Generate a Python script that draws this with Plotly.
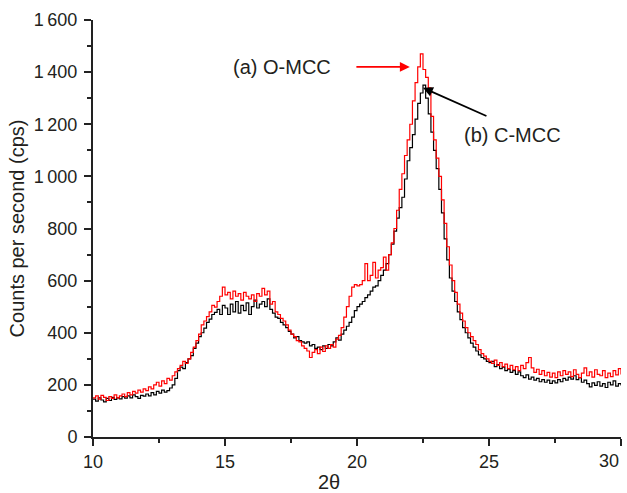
import numpy as np
import plotly.graph_objects as go

two_theta = [round(10 + 0.1 * i, 1) for i in range(201)]

c_mcc = [
    145, 138, 150, 142, 135, 148, 140, 152, 144, 150,
    146, 155, 149, 158, 150, 162, 155, 148, 160, 157,
    165, 158, 170, 162, 175, 168, 180, 172, 178, 188,
    200, 225, 255, 268, 262, 285, 300, 312, 340, 360,
    385, 400, 418, 440, 452, 470, 478, 490, 470, 505,
    495, 470, 510, 480, 520, 475, 505, 485, 515, 470,
    500, 525, 495, 510, 520, 500, 530, 490, 475, 460,
    455, 440, 430, 420, 405, 395, 380, 385, 370, 365,
    360, 365, 350, 355, 340, 345, 335, 350, 340, 355,
    350, 365, 380, 372, 395, 410, 425, 440, 460, 485,
    500, 510, 520, 535, 545, 560, 575, 580, 600, 620,
    640, 665, 700, 740, 790, 840, 880, 920, 990, 1060,
    1110, 1160, 1220, 1280, 1320, 1350, 1300, 1240, 1170, 1100,
    1030, 950, 860, 760, 680, 610, 560, 520, 480, 450,
    420, 400, 380, 360, 345, 330, 315, 305, 300, 290,
    285, 290, 270, 278, 262, 268, 255, 260, 248, 255,
    240, 250, 235, 228, 238, 222, 230, 218, 225, 212,
    220, 210, 218, 206, 215, 208, 220, 212, 225, 218,
    230, 222, 235, 220, 228, 210, 218, 205, 192, 208,
    198, 212, 195, 205, 190, 210, 200, 215, 195, 205,
    198,
]

o_mcc = [
    150, 158, 145, 160, 152, 140, 155, 148, 162, 150,
    158, 165, 155, 170, 162, 175, 168, 180, 172, 185,
    178, 192, 185, 200, 210, 195, 215, 205, 225, 218,
    235, 250, 262, 275, 290, 282, 300, 325, 345, 370,
    395, 430, 445, 462, 480, 505, 498, 520, 540, 575,
    545, 555, 530, 560, 540, 550, 525, 555, 540, 530,
    545, 520, 550, 540, 570, 545, 560, 510, 520, 480,
    470, 455, 445, 430, 410, 395, 385, 370, 365, 350,
    340, 330, 305, 325, 335, 320, 345, 328, 350, 340,
    355, 345, 375, 390, 420, 460, 500, 540, 575, 585,
    580, 585, 600, 665, 600, 620, 670, 610, 640, 650,
    690, 640, 700, 745, 800, 870, 950, 1010, 1080, 1140,
    1200, 1290, 1360, 1420, 1470, 1410, 1380, 1340, 1230, 1140,
    1070, 1000, 910, 820, 730, 660, 600, 555, 510, 475,
    445, 420, 400, 385, 370, 355, 335, 320, 310, 300,
    290, 282, 295, 275, 285, 270, 280, 262, 275, 258,
    270, 255, 275, 262, 285, 305, 265, 248, 260, 240,
    255, 235, 248, 230, 245, 228, 250, 235, 255, 240,
    250, 232, 258, 240, 228, 245, 265, 235, 250, 230,
    258, 240, 235, 255, 228, 245, 232, 255, 238, 262,
    240,
]

y_ticks = [0, 200, 400, 600, 800, 1000, 1200, 1400, 1600]
y_labels = ["0", "200", "400", "600", "800", "1\u2009000", "1\u2009200", "1\u2009400", "1\u2009600"]
x_ticks = [10, 15, 20, 25, 30]
x_labels = ["10", "15", "20", "25", ""]

FONT = "Liberation Sans, Arial, sans-serif"
TXT = "#231f20"
TICK_SIZE = 18
TEXT_SIZE = 20

fig = go.Figure()
fig.add_trace(go.Scatter(x=two_theta, y=c_mcc, mode="lines", name="(b) C-MCC",
                         line=dict(color="#000000", width=1.2, shape="hv")))
fig.add_trace(go.Scatter(x=two_theta, y=o_mcc, mode="lines", name="(a) O-MCC",
                         line=dict(color="#ff0000", width=1.2, shape="hv")))

fig.update_layout(
    width=627, height=493,
    margin=dict(l=93, r=6, t=20, b=56),
    paper_bgcolor="white", plot_bgcolor="white",
    showlegend=False,
    font=dict(family=FONT, size=TICK_SIZE, color=TXT),
    xaxis=dict(range=[10, 30], tickvals=x_ticks, ticktext=x_labels,
               showgrid=False, zeroline=False, showline=True, linecolor="#222", linewidth=2,
               ticks="outside", ticklen=7, tickwidth=1.5, tickcolor="#222",
               minor=dict(dtick=2.5, tick0=10, ticks="outside", ticklen=4, tickwidth=1.5, tickcolor="#222"),
               tickfont=dict(size=TICK_SIZE, color=TXT)),
    yaxis=dict(range=[0, 1600], tickvals=y_ticks, ticktext=y_labels,
               showgrid=False, zeroline=False, showline=True, linecolor="#222", linewidth=2,
               ticks="outside", ticklen=7, tickwidth=1.5, tickcolor="#222",
               minor=dict(dtick=100, tick0=0, ticks="outside", ticklen=4, tickwidth=1.5, tickcolor="#222"),
               tickfont=dict(size=TICK_SIZE, color=TXT), ticklabelstandoff=3,
               title=dict(text="Counts per second (cps)", font=dict(size=TEXT_SIZE, color=TXT), standoff=4)),
)

fig.add_annotation(x=30, y=0, xref="x", yref="y", text="30", showarrow=False,
                   xanchor="right", yanchor="top", yshift=-12, xshift=0,
                   font=dict(size=TICK_SIZE, color=TXT))
fig.add_annotation(x=0.447, y=-0.108, xref="paper", yref="paper", text="2θ", showarrow=False,
                   xanchor="center", yanchor="middle", font=dict(size=TEXT_SIZE, color=TXT))

fig.add_annotation(x=22.0, y=1420, xref="x", yref="y", ax=19.92, ay=1420, axref="x", ayref="y",
                   text="", showarrow=True, arrowhead=2, arrowsize=1.1, arrowwidth=1.8, arrowcolor="#ff0000")
fig.add_annotation(x=17.15, y=1420, xref="x", yref="y", text="(a) O-MCC", showarrow=False,
                   font=dict(size=TEXT_SIZE, color=TXT))
fig.add_annotation(x=25.9, y=1160, xref="x", yref="y", text="(b) C-MCC", showarrow=False,
                   font=dict(size=TEXT_SIZE, color=TXT))
fig.add_annotation(x=22.5, y=1340, xref="x", yref="y", ax=24.96, ay=1229, axref="x", ayref="y",
                   text="", showarrow=True, arrowhead=2, arrowsize=1.1, arrowwidth=1.8, arrowcolor="#000000")

fig.write_html("out.html")
